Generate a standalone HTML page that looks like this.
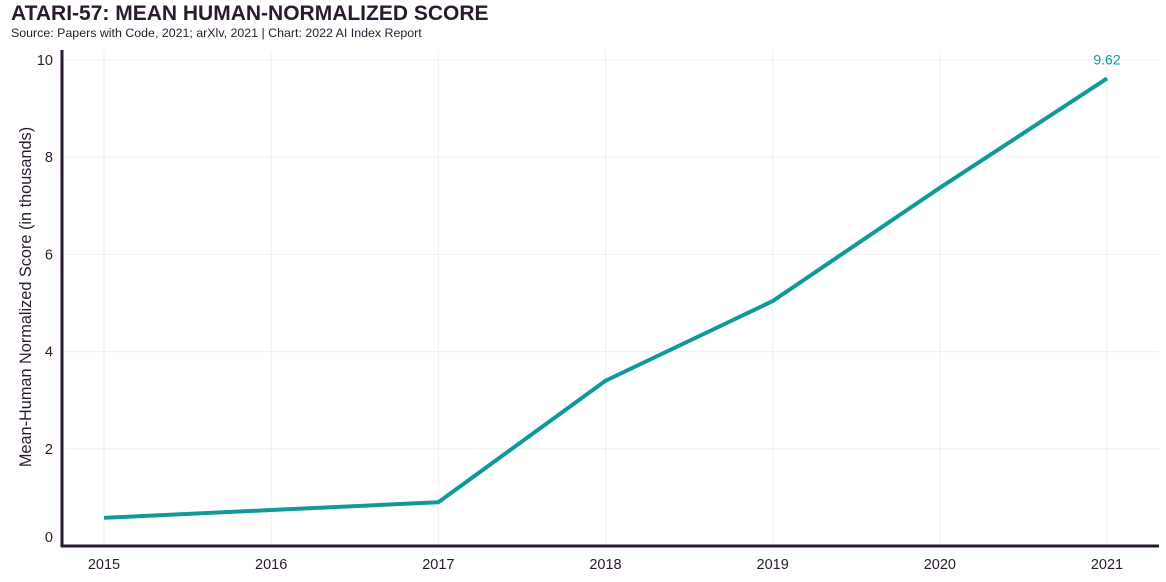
<!DOCTYPE html>
<html><head><meta charset="utf-8"><style>
body{margin:0;background:#fff;font-family:"Liberation Sans",sans-serif;}
svg{display:block}
</style></head><body>
<svg width="1166" height="582">
<text x="11" y="20" font-size="21" font-weight="bold" fill="#2a1a2e">ATARI-57: MEAN HUMAN-NORMALIZED SCORE</text>
<text x="11" y="37" font-size="12.4" fill="#2a1a2e">Source: Papers with Code, 2021; arXlv, 2021 | Chart: 2022 AI Index Report</text>
<text transform="translate(31,297) rotate(-90)" text-anchor="middle" font-size="16.3" fill="#2a1a2e">Mean-Human Normalized Score (in thousands)</text>
<g id="grid"></g><g id="ticks"></g>
<line x1="62" y1="50" x2="62" y2="547" stroke="#2a1a2e" stroke-width="3"/>
<line x1="61" y1="546" x2="1159" y2="546" stroke="#2a1a2e" stroke-width="3"/>
<g id="series"></g>
</svg>
<script>
const years=["2015","2016","2017","2018","2019","2020","2021"];
const scores=[0.58,0.74,0.9,3.4,5.04,7.37,9.62];
const yTicks=[0,2,4,6,8,10];
const ns="http://www.w3.org/2000/svg";
const xs=i=>104+i*(1107-104)/6;
const ys=v=>546-v*48.6;
const grid=document.getElementById('grid'),ticks=document.getElementById('ticks'),ser=document.getElementById('series');
function mk(tag,attrs,parent){const e=document.createElementNS(ns,tag);for(const k in attrs)e.setAttribute(k,attrs[k]);parent.appendChild(e);return e;}
yTicks.forEach(v=>{
 if(v>0){const g=mk('line',{x1:62,x2:1159,y1:ys(v),y2:ys(v),stroke:'#eeeeee','stroke-width':1},grid);
 
 }
 const t=mk('text',{x:53,y:ys(v)+(v===0?-4:5),'text-anchor':'end','font-size':14.5,fill:'#2a1a2e'},ticks);
 t.textContent=v;
 
 
});
years.forEach((y,i)=>{
 const g=mk('line',{x1:xs(i),x2:xs(i),y1:50,y2:546,stroke:'#eeeeee','stroke-width':1},grid);
 
 
 const t=mk('text',{x:xs(i),y:569,'text-anchor':'middle','font-size':14.5,fill:'#2a1a2e'},ticks);
 t.textContent=y;
 
 
});
const p=mk('polyline',{points:scores.map((v,i)=>xs(i)+','+ys(v)).join(' '),fill:'none',stroke:'#11999a','stroke-width':4,'stroke-linejoin':'round'},ser);


const last=scores.length-1;
const l=mk('text',{x:xs(last),y:ys(scores[last])-14,'text-anchor':'middle','font-size':14,fill:'#11999a'},ser);
l.textContent=scores[last].toFixed(2);


</script>
</body></html>
